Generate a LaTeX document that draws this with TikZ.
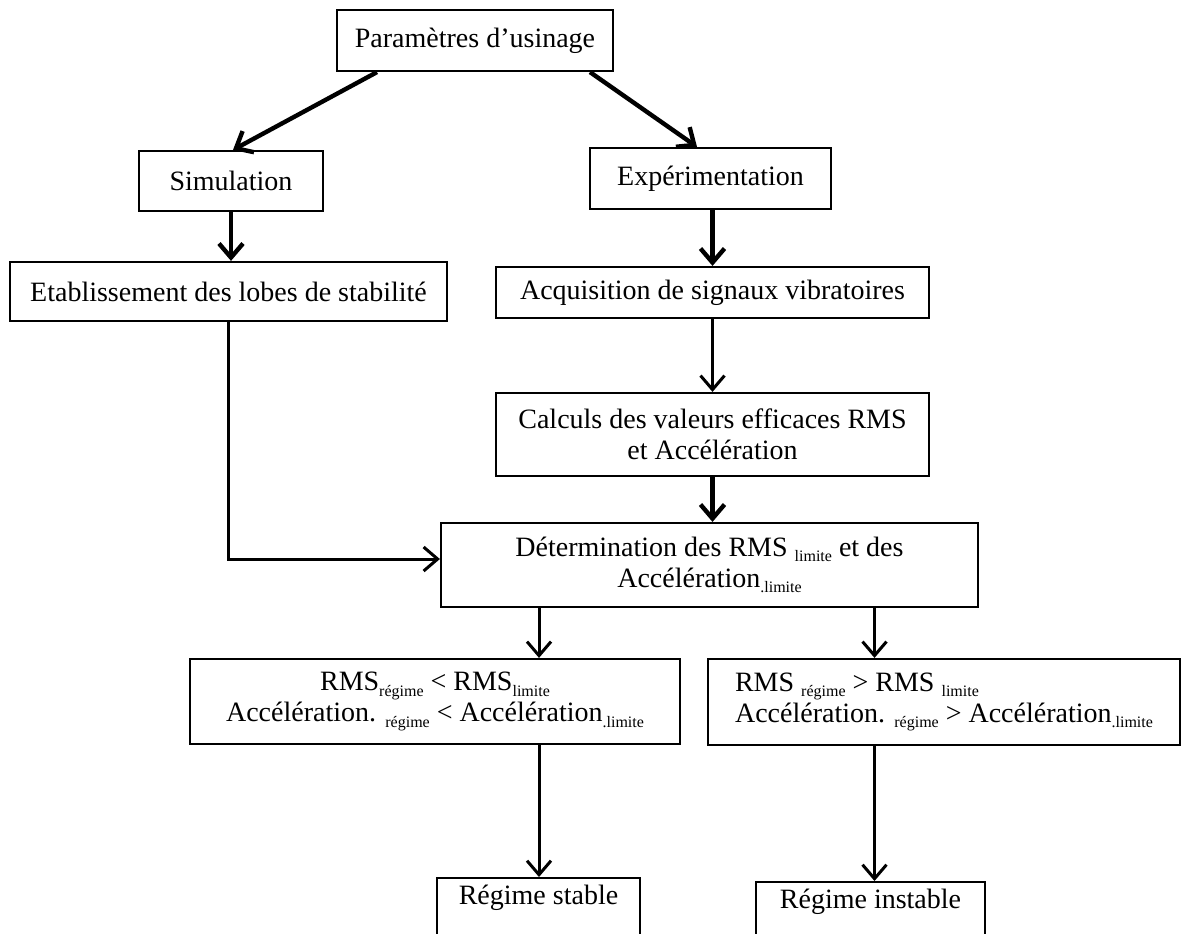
\documentclass[tikz,border=0pt]{standalone}
\usepackage{fontspec}
\setmainfont{Liberation Serif}
\usetikzlibrary{arrows.meta,calc}
\newcommand\sbs[1]{\raisebox{-0.4ex}{\fontsize{8}{9}\selectfont #1}}
\tikzset{
  box/.style={draw, line width=1.1pt, inner sep=0pt, align=center,
    font=\fontsize{14}{15.5}\selectfont},
  arr/.style={-{Straight Barb[length=7pt,width=12pt]}, line width=1.5pt},
  tarr/.style={arr, line width=2.2pt}
}
\begin{document}
\begin{tikzpicture}[x=0.5pt,y=-0.5pt]
\useasboundingbox[fill=white] (0,0) rectangle (1182,933);
\node[box, minimum width=138pt, minimum height=30.5pt] (param) at (475,40.5) {Paramètres d’usinage};
\node[box, minimum width=92pt, minimum height=30pt] (sim) at (231,181) {Simulation};
\node[box, minimum width=120.5pt, minimum height=30.5pt] (exp) at (710.5,178.5) {Expérimentation};
\node[box, minimum width=218.5pt, minimum height=29.5pt] (etab) at (228.5,291.5) {Etablissement des lobes de stabilité};
\node[box, minimum width=216.5pt, minimum height=25.5pt] (acq) at (712.5,292.5) {Acquisition de signaux vibratoires};
\node[box, minimum width=216.5pt, minimum height=41.5pt] (calc) at (712.5,434.5) {Calculs des valeurs efficaces RMS\\ et Accélération};
\node[box, minimum width=268.5pt, minimum height=42pt] (det) at (709.5,565) {Détermination des RMS \sbs{limite} et des\\ Accélération\sbs{.limite}};
\node[box, minimum width=245pt, minimum height=42.5pt] (lrms) at (435,701.5) {RMS\sbs{régime} < RMS\sbs{limite}\\ Accélération. \sbs{régime} < Accélération\sbs{.limite}};
\node[box, align=left, minimum width=236pt, minimum height=43pt] (rrms) at (944,702) {RMS \sbs{régime} > RMS \sbs{limite}\\ Accélération. \sbs{régime} > Accélération\sbs{.limite}};
\node[box, anchor=north, minimum width=101.5pt, text height=10pt, text depth=40pt, inner ysep=3pt] (stable) at (538.5,877) {Régime stable};
\node[box, anchor=north, minimum width=114.5pt, text height=10pt, text depth=40pt, inner ysep=3pt] (instable) at (870.5,881) {Régime instable};

\coordinate (la) at (539,0);
\coordinate (ra) at (874.5,0);
\coordinate (detin) at ($(det.west)+(0,-6)$);

\draw[tarr] ($(param.south)+(-98,0)$) -- ($(sim.north)+(2,0)$);
\draw[tarr] ($(param.south)+(115,0)$) -- ($(exp.north)+(-13.5,0)$);
\draw[tarr] (sim.south) -- (sim.south |- etab.north);
\draw[tarr] (acq.north |- exp.south) -- (acq.north);
\draw[arr] (acq.south) -- (calc.north);
\draw[tarr] (calc.south) -- (calc.south |- det.north);
\draw[arr] (etab.south) |- (detin);
\draw[arr] (la |- det.south) -- (la |- lrms.north);
\draw[arr] (ra |- det.south) -- (ra |- rrms.north);
\draw[arr] (la |- lrms.south) -- (la |- stable.north);
\draw[arr] (ra |- rrms.south) -- (ra |- instable.north);
\end{tikzpicture}
\end{document}
